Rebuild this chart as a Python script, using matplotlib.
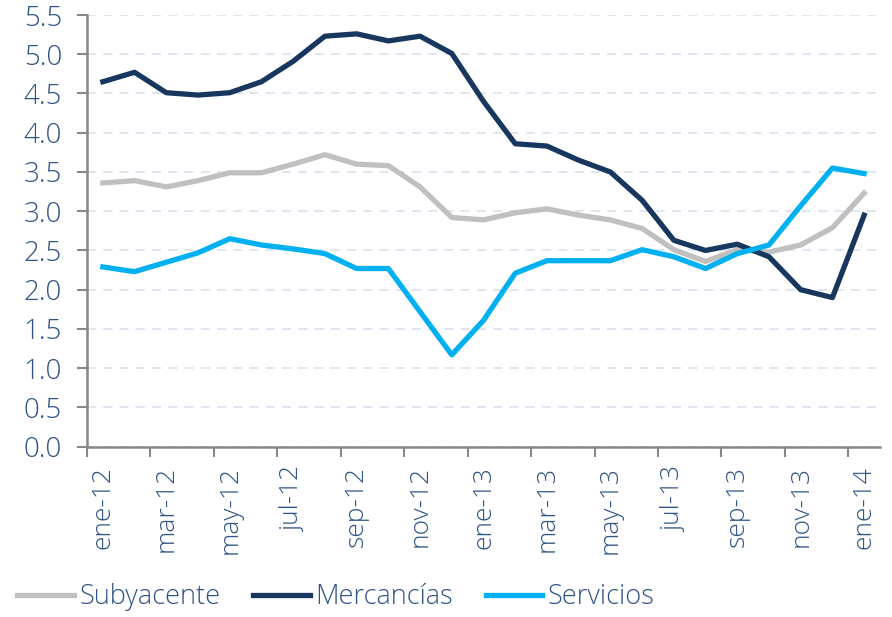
import matplotlib.pyplot as plt
from matplotlib.ticker import FixedLocator, NullFormatter

# Datos mensuales ene-12 .. ene-14
meses = ["ene-12", "feb-12", "mar-12", "abr-12", "may-12", "jun-12", "jul-12", "ago-12",
         "sep-12", "oct-12", "nov-12", "dic-12", "ene-13", "feb-13", "mar-13", "abr-13",
         "may-13", "jun-13", "jul-13", "ago-13", "sep-13", "oct-13", "nov-13", "dic-13",
         "ene-14"]

subyacente = [3.36, 3.39, 3.31, 3.39, 3.49, 3.49, 3.60, 3.72, 3.60, 3.58, 3.31, 2.92,
              2.89, 2.98, 3.03, 2.95, 2.89, 2.78, 2.51, 2.36, 2.51, 2.48, 2.57, 2.79, 3.23]
mercancias = [4.65, 4.77, 4.51, 4.48, 4.51, 4.65, 4.91, 5.23, 5.26, 5.17, 5.23, 5.01,
              4.40, 3.86, 3.83, 3.65, 3.50, 3.14, 2.63, 2.50, 2.58, 2.42, 2.00, 1.90, 2.95]
servicios = [2.29, 2.23, 2.35, 2.47, 2.65, 2.57, 2.52, 2.46, 2.27, 2.27, 1.72, 1.17,
             1.61, 2.21, 2.37, 2.37, 2.37, 2.51, 2.42, 2.27, 2.46, 2.57, 3.07, 3.55, 3.48]

txt = "#2f5486"
plt.rcParams['font.family'] = ['Open Sans', 'DejaVu Sans']
plt.rcParams['font.weight'] = 'light'

fig = plt.figure(figsize=(8.92, 6.17), dpi=100)
ax = fig.add_axes([87/892, 1 - 446.7/617, (880-87)/892, (446.7-15)/617])

x = list(range(len(meses)))
ax.plot(x, subyacente, color="#c0c0c0", lw=3.8, label="Subyacente", solid_joinstyle="round")
ax.plot(x, mercancias, color="#17375e", lw=3.8, label="Mercancías", solid_joinstyle="round")
ax.plot(x, servicios, color="#00b0f0", lw=3.8, label="Servicios", solid_joinstyle="round")

ax.set_ylim(0, 5.5)
ax.set_xlim(-0.5, len(meses) - 0.5)
ax.set_yticks([i * 0.5 for i in range(12)])
ax.set_yticklabels(["%.1f" % (i * 0.5) for i in range(12)], color=txt, fontsize=20)

# ticks between categories, labels on categories
ax.xaxis.set_major_locator(FixedLocator([i - 0.5 for i in range(0, len(meses), 2)]))
ax.xaxis.set_major_formatter(NullFormatter())
ax.xaxis.set_minor_locator(FixedLocator(list(range(0, len(meses), 2))))
ax.set_xticklabels(meses[::2], minor=True, rotation=90, color=txt, fontsize=19)
ax.tick_params(axis="x", which="minor", length=0, pad=14)
ax.tick_params(axis="x", which="major", length=7, width=1.5, color="#888888", direction="out")
ax.tick_params(axis="y", length=7, width=1.5, color="#888888", pad=11)

ax.grid(axis="y", color="#dbe4f1", linestyle=(0, (5, 4)), lw=1.3)
ax.set_axisbelow(True)
for s in ["top", "right"]:
    ax.spines[s].set_visible(False)
for s in ["left", "bottom"]:
    ax.spines[s].set_color("#888888")
    ax.spines[s].set_linewidth(1.8)

leg = fig.legend(loc="lower left", bbox_to_anchor=(-0.008, -0.03), ncol=3, frameon=False,
                 handlelength=2.1, handletextpad=0.2, columnspacing=1.2,
                 prop={"size": 19.5, "weight": "light"})
for t in leg.get_texts():
    t.set_color(txt)

fig.savefig("out.png", dpi=100)
